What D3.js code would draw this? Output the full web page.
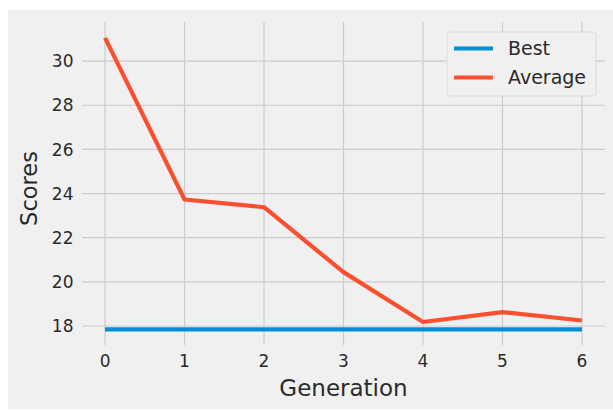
<!DOCTYPE html>
<html><head><meta charset="utf-8">
<script src="https://cdn.jsdelivr.net/npm/d3@7"></script>
<style>body{margin:0;background:#fff;}svg{display:block;font-family:"DejaVu Sans",sans-serif;}</style>
</head><body><svg id="c" width="613" height="410"></svg>
<script>
const generations = [0,1,2,3,4,5,6];
const bestScores = [17.85,17.85,17.85,17.85,17.85,17.85,17.85];
const averageScores = [31.05,23.73,23.38,20.44,18.18,18.63,18.25];
const yTicks = [18,20,22,24,26,28,30];
const xTicks = [0,1,2,3,4,5,6];
const seriesNames = ["Best","Average"];
const colors = ["#008fd5","#fc4f30"];

const svg = d3.select("#c");
svg.append("rect").attr("x",8).attr("y",10).attr("width",605).attr("height",399).attr("fill","#f0f0f0");

const x = d3.scaleLinear().domain([-0.29,6.29]).range([82,605]);
const y = d3.scaleLinear().domain([17.14,31.77]).range([345,22]);

const g = svg.append("g");
g.selectAll(".hg").data(yTicks).enter().append("line")
 .attr("x1",x.range()[0]).attr("x2",x.range()[1])
 .attr("y1",d=>y(d)).attr("y2",d=>y(d)).attr("stroke","#cbcbcb").attr("stroke-width",1.2);
g.selectAll(".vg").data(xTicks).enter().append("line")
 .attr("y1",y.range()[0]).attr("y2",y.range()[1])
 .attr("x1",d=>x(d)).attr("x2",d=>x(d)).attr("stroke","#cbcbcb").attr("stroke-width",1.2);

g.selectAll(".yl").data(yTicks).enter().append("text")
 .attr("x",73.5).attr("y",d=>y(d)).attr("dy","0.36em").attr("text-anchor","end")
 .attr("font-size",17).attr("fill","#2a2a2a").text(d=>d);
g.selectAll(".xl").data(xTicks).enter().append("text")
 .attr("x",d=>x(d)).attr("y",361).attr("dy","0.36em").attr("text-anchor","middle")
 .attr("font-size",17).attr("fill","#2a2a2a").text(d=>d);

svg.append("text").attr("x",x(3)).attr("y",396).attr("text-anchor","middle")
 .attr("font-size",23).attr("fill","#2a2a2a").text("Generation");
svg.append("text").attr("transform",`translate(37,188.5) rotate(-90)`)
 .attr("text-anchor","middle").attr("font-size",22.5).attr("fill","#2a2a2a").text("Scores");

const line = d3.line().x((d,i)=>x(generations[i])).y(d=>y(d));
[bestScores, averageScores].forEach((s,i)=>{
  g.append("path").datum(s).attr("d",line).attr("fill","none")
   .attr("stroke",colors[i]).attr("stroke-width",4.2).attr("stroke-linejoin","round");
});

const lg = svg.append("g");
lg.append("rect").attr("x",447).attr("y",32).attr("width",149).attr("height",64).attr("rx",3)
 .attr("fill","#f0f0f0").attr("stroke","#dcdcdc").attr("stroke-width",1);
seriesNames.forEach((n,i)=>{
  const yy = 48.5 + i*29;
  lg.append("line").attr("x1",454).attr("x2",493).attr("y1",yy).attr("y2",yy)
   .attr("stroke",colors[i]).attr("stroke-width",4.2);
  lg.append("text").attr("x",508).attr("y",yy).attr("dy","0.36em").attr("font-size",19)
   .attr("fill","#2a2a2a").text(n);
});
</script></body></html>
